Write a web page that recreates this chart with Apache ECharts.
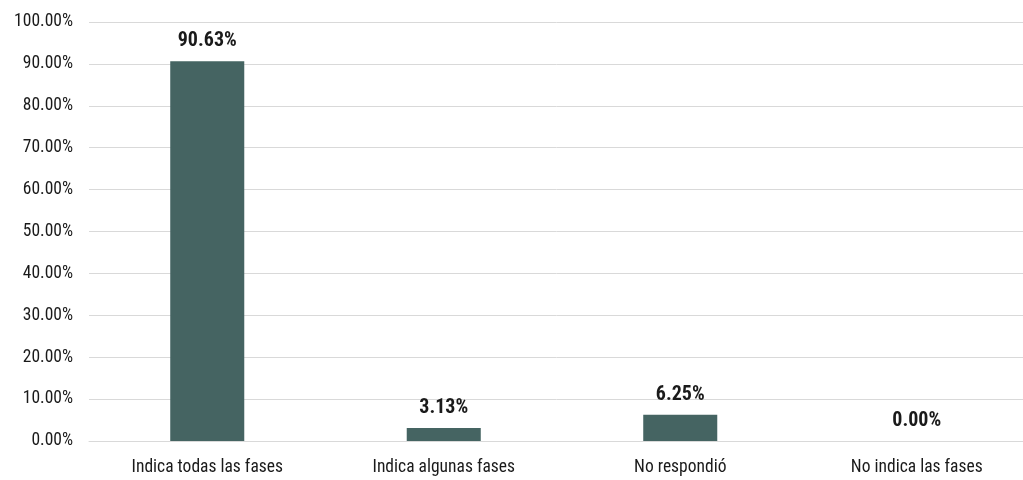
<!DOCTYPE html>
<html lang="es">
<head>
    <meta charset="UTF-8">
    <title>Fases</title>
    <script src="https://cdn.jsdelivr.net/npm/echarts@6/dist/echarts.min.js"></script>
    <style>
        html, body { margin: 0; padding: 0; background: #fff; overflow: hidden; }
        #chart { width: 1023px; height: 480px; }
    </style>
</head>
<body>
    <div id="chart"></div>
    <script>
        // Datos del gráfico
        const categorias = ['Indica todas las fases', 'Indica algunas fases', 'No respondió', 'No indica las fases'];
        const porcentajes = [90.63, 3.13, 6.25, 0.00];

        const fuente = '"Liberation Sans Narrow", "Roboto Condensed", sans-serif';

        const myChart = echarts.init(document.getElementById('chart'));
        myChart.setOption({
            backgroundColor: '#fff',
            animation: false,
            // el gráfico original está recortado por la derecha
            grid: { left: 89, right: -12, top: 22, bottom: 39, outerBoundsMode: 'none' },
            xAxis: {
                type: 'category',
                data: categorias,
                axisLine: { lineStyle: { color: '#d9d9d9', width: 1 } },
                axisTick: { show: false },
                axisLabel: { color: '#1a1a1a', fontFamily: fuente, fontSize: 17.5, margin: 18 }
            },
            yAxis: {
                type: 'value',
                min: 0,
                max: 100,
                interval: 10,
                axisLine: { show: false },
                axisTick: { show: false },
                splitLine: { lineStyle: { color: '#d9d9d9', width: 1 } },
                axisLabel: {
                    color: '#1a1a1a', fontFamily: fuente, fontSize: 17.5, margin: 16,
                    formatter: v => v.toFixed(2) + '%'
                }
            },
            series: [{
                type: 'bar',
                data: porcentajes,
                barWidth: '31.3%',
                itemStyle: { color: '#456462' },
                label: {
                    show: true,
                    position: 'top',
                    distance: 10,
                    color: '#1a1a1a',
                    fontFamily: fuente,
                    fontWeight: 'bold',
                    fontSize: 20,
                    formatter: p => p.value.toFixed(2) + '%'
                }
            }]
        });
    </script>
</body>
</html>
